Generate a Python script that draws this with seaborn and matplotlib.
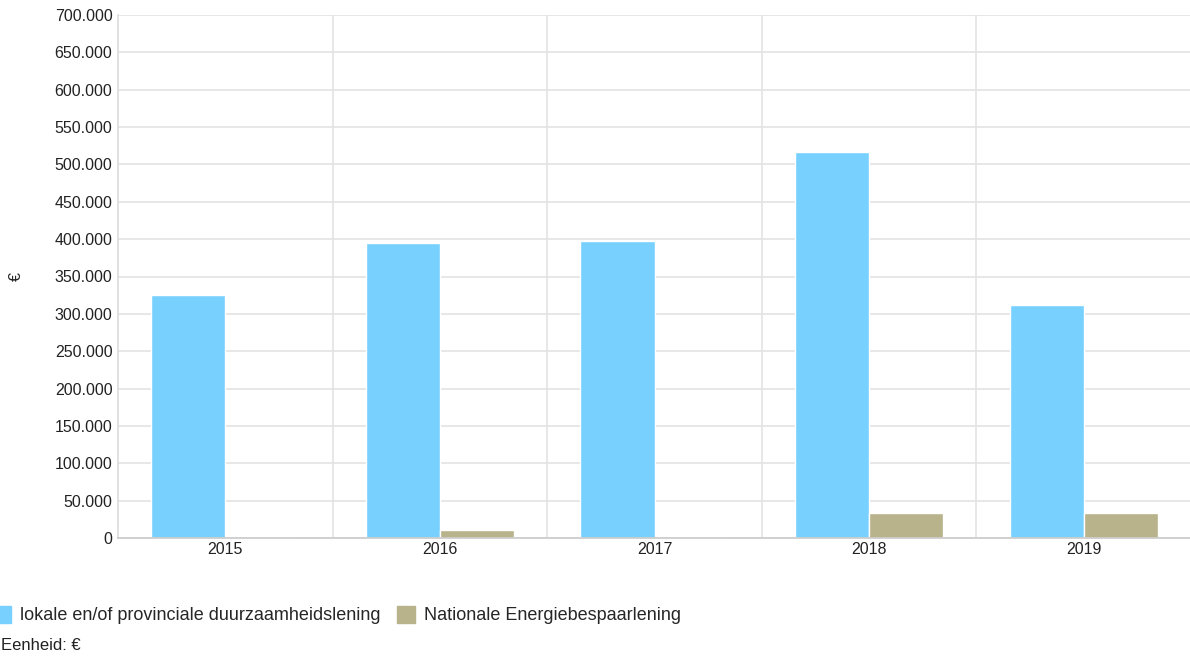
import matplotlib
matplotlib.use("Agg")
import matplotlib.pyplot as plt
import matplotlib.ticker as mticker
import pandas as pd
import seaborn as sns

# Waarden
jaren = ["2015", "2016", "2017", "2018", "2019"]
lokaal = [325000, 395000, 398000, 516000, 312000]
nationaal = [0, 11000, 0, 33000, 33000]
series = ["lokale en/of provinciale duurzaamheidslening", "Nationale Energiebespaarlening"]
kleuren = ["#78D0FF", "#B8B38A"]

df = pd.DataFrame({
    "jaar": jaren * 2,
    "bedrag": lokaal + nationaal,
    "serie": [series[0]] * len(jaren) + [series[1]] * len(jaren),
})

sns.set_theme(style="white")
plt.rcParams["font.family"] = ["Liberation Sans", "DejaVu Sans"]

fig = plt.figure(figsize=(11.9, 6.57), dpi=100)
ax = fig.add_axes([118 / 1190, 1 - 538 / 657, (1191 - 118) / 1190, (538 - 15) / 657])

sns.barplot(data=df, x="jaar", y="bedrag", hue="serie", palette=kleuren,
            width=0.69, saturation=1, ax=ax, legend=False)

ax.set_ylim(0, 700000)
ax.set_xlim(-0.5, 4.5)
ax.yaxis.set_major_locator(mticker.MultipleLocator(50000))
ax.yaxis.set_major_formatter(
    mticker.FuncFormatter(lambda v, p: f"{int(v):,}".replace(",", ".")))
ax.xaxis.set_minor_locator(mticker.FixedLocator([0.5, 1.5, 2.5, 3.5]))
ax.grid(axis="y", which="major", color="#E3E3E3", linewidth=1.2)
ax.grid(axis="x", which="minor", color="#E3E3E3", linewidth=1.2)
ax.set_axisbelow(True)

for s in ["top", "right"]:
    ax.spines[s].set_visible(False)
ax.spines["left"].set_color("#DDDDDD")
ax.spines["bottom"].set_color("#CCCCCC")
ax.tick_params(axis="both", which="both", length=0, labelsize=11.5, colors="#222222")
ax.tick_params(axis="y", pad=4)
ax.tick_params(axis="x", pad=3)

ax.set_xlabel("")
ax.set_ylabel("€", fontsize=11.5, color="#222222", labelpad=22)

handles = [plt.Rectangle((0, 0), 1, 1, color=c) for c in kleuren]
fig.legend(handles, series, loc="center left", bbox_to_anchor=(-0.012, 1 - 615 / 657),
           ncol=2, frameon=False, fontsize=13, handlelength=1.0, handleheight=1.1,
           handletextpad=0.5, columnspacing=0.9, borderaxespad=0)
fig.text(0.001, 1 - 645 / 657, "Eenheid: €", fontsize=12, color="#222222", va="center")

fig.savefig("out.png", dpi=100)
